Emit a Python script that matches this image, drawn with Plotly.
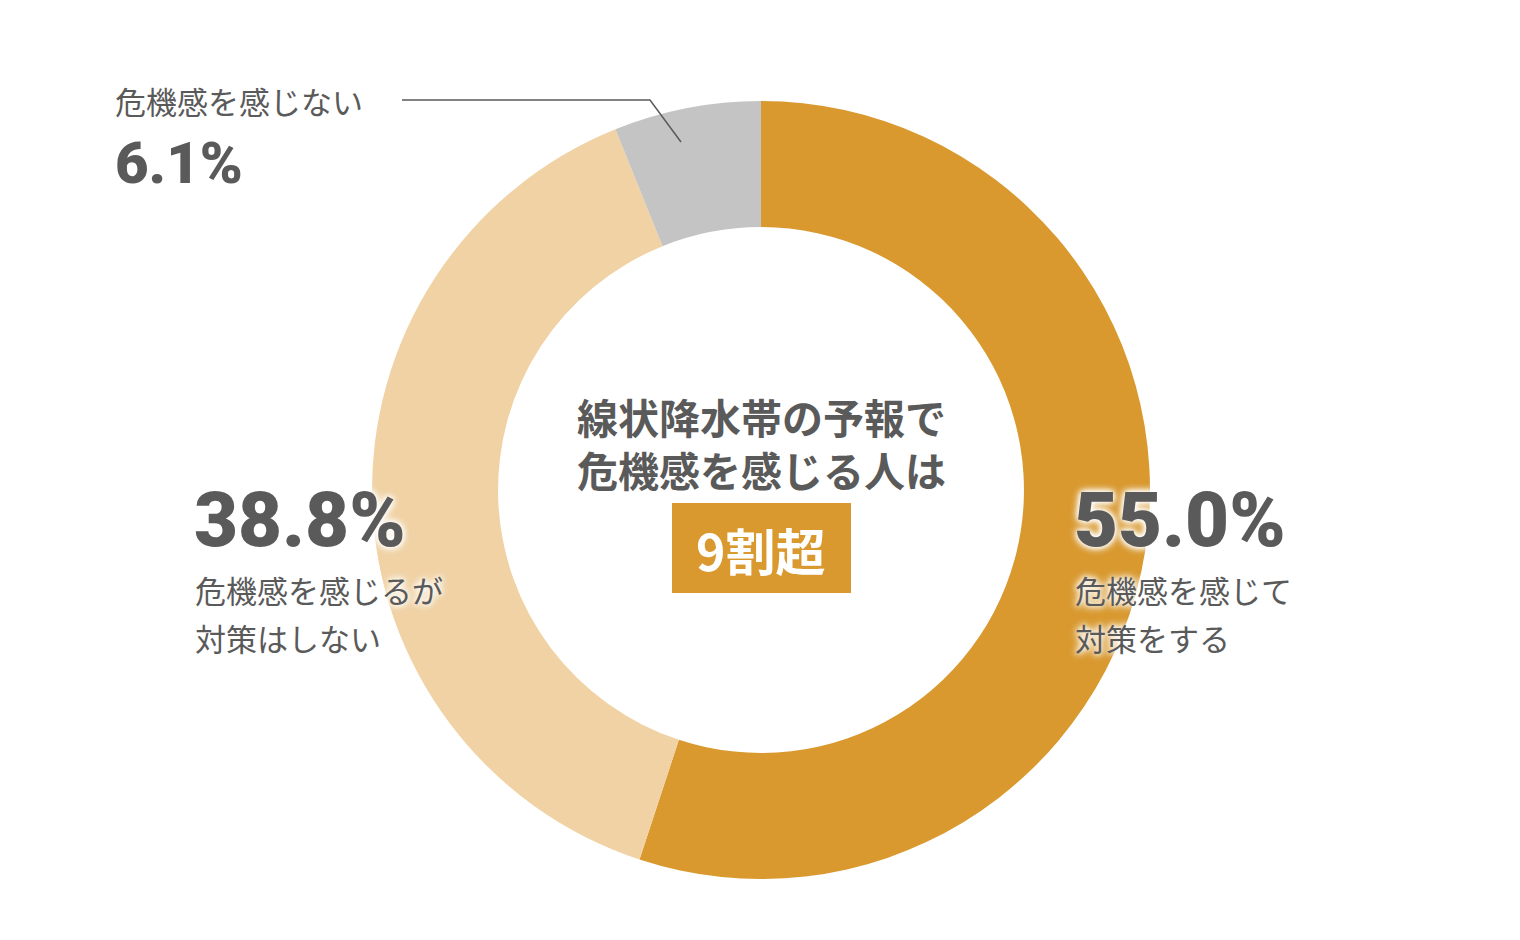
import plotly.graph_objects as go

categories = ["危機感を感じて対策をする", "危機感を感じるが対策はしない", "危機感を感じない"]
values = [55.0, 38.8, 6.1]
colors = ["#D9992F", "#F0D2A4", "#C4C4C4"]

pct_labels = ["55.0%", "38.8%", "6.1%"]
center_lines = ["線状降水帯の予報で", "危機感を感じる人は"]
badge_text = "9割超"

TXT = "#5a5a5a"
JP = "Noto Sans CJK JP"
NUM = "Roboto, Noto Sans CJK JP"
GLOW = "0px 0px 8px white, 0px 0px 8px white, 0px 0px 5px white"

W, H = 1520, 940
cx, cy, R = 761, 490, 389


def px(x):
    return x / W


def py(y):
    return 1 - y / H


fig = go.Figure()
fig.add_trace(go.Pie(
    labels=categories, values=values, hole=0.676, sort=False,
    direction="clockwise", rotation=0,
    marker=dict(colors=colors, line=dict(width=0)),
    textinfo="none", hoverinfo="label+percent", showlegend=False,
    domain=dict(x=[px(cx - R), px(cx + R)], y=[py(cy + R), py(cy - R)]),
))

ann = []


def add(text, x, y, size, weight=400, font=JP, color=TXT, xanchor="left", shadow=None):
    f = dict(family=font, size=size, color=color, weight=weight)
    if shadow:
        f["shadow"] = shadow
    ann.append(dict(text=text, x=px(x), y=py(y), xref="paper", yref="paper",
                    xanchor=xanchor, yanchor="middle", showarrow=False, font=f))

# 6.1%
add("危機感を感じない", 113, 101, 31)
add(pct_labels[2], 113, 163, 58, weight=900, font=NUM)
# 38.8%
add(pct_labels[1], 192, 520, 76, weight=900, font=NUM, shadow=GLOW)
add("危機感を感じるが", 193, 589, 31, shadow=GLOW)
add("対策はしない", 193, 637, 31)
# 55.0%
add(pct_labels[0], 1072, 520, 76, weight=900, font=NUM, shadow=GLOW)
add("危機感を感じて", 1073, 589, 31, shadow=GLOW)
add("対策をする", 1073, 637, 31, shadow=GLOW)
# center
add("<br>".join(center_lines), cx, 442, 41, weight=700, xanchor="center")
add(badge_text, cx, 549, 50, weight=700, color="white", xanchor="center")

shapes = [
    dict(type="rect", xref="paper", yref="paper",
         x0=px(672), x1=px(851), y0=py(593), y1=py(503),
         fillcolor="#D9992F", line=dict(width=0), layer="above"),
    dict(type="path", xref="paper", yref="paper",
         path=f"M {px(402)} {py(100)} L {px(650)} {py(100)} L {px(681)} {py(142)}",
         line=dict(color="#5a5a5a", width=1.5), layer="above"),
]

fig.update_layout(
    width=W, height=H, margin=dict(l=0, r=0, t=0, b=0),
    paper_bgcolor="white", plot_bgcolor="white",
    annotations=ann, shapes=shapes,
)
fig.write_html("out.html")
